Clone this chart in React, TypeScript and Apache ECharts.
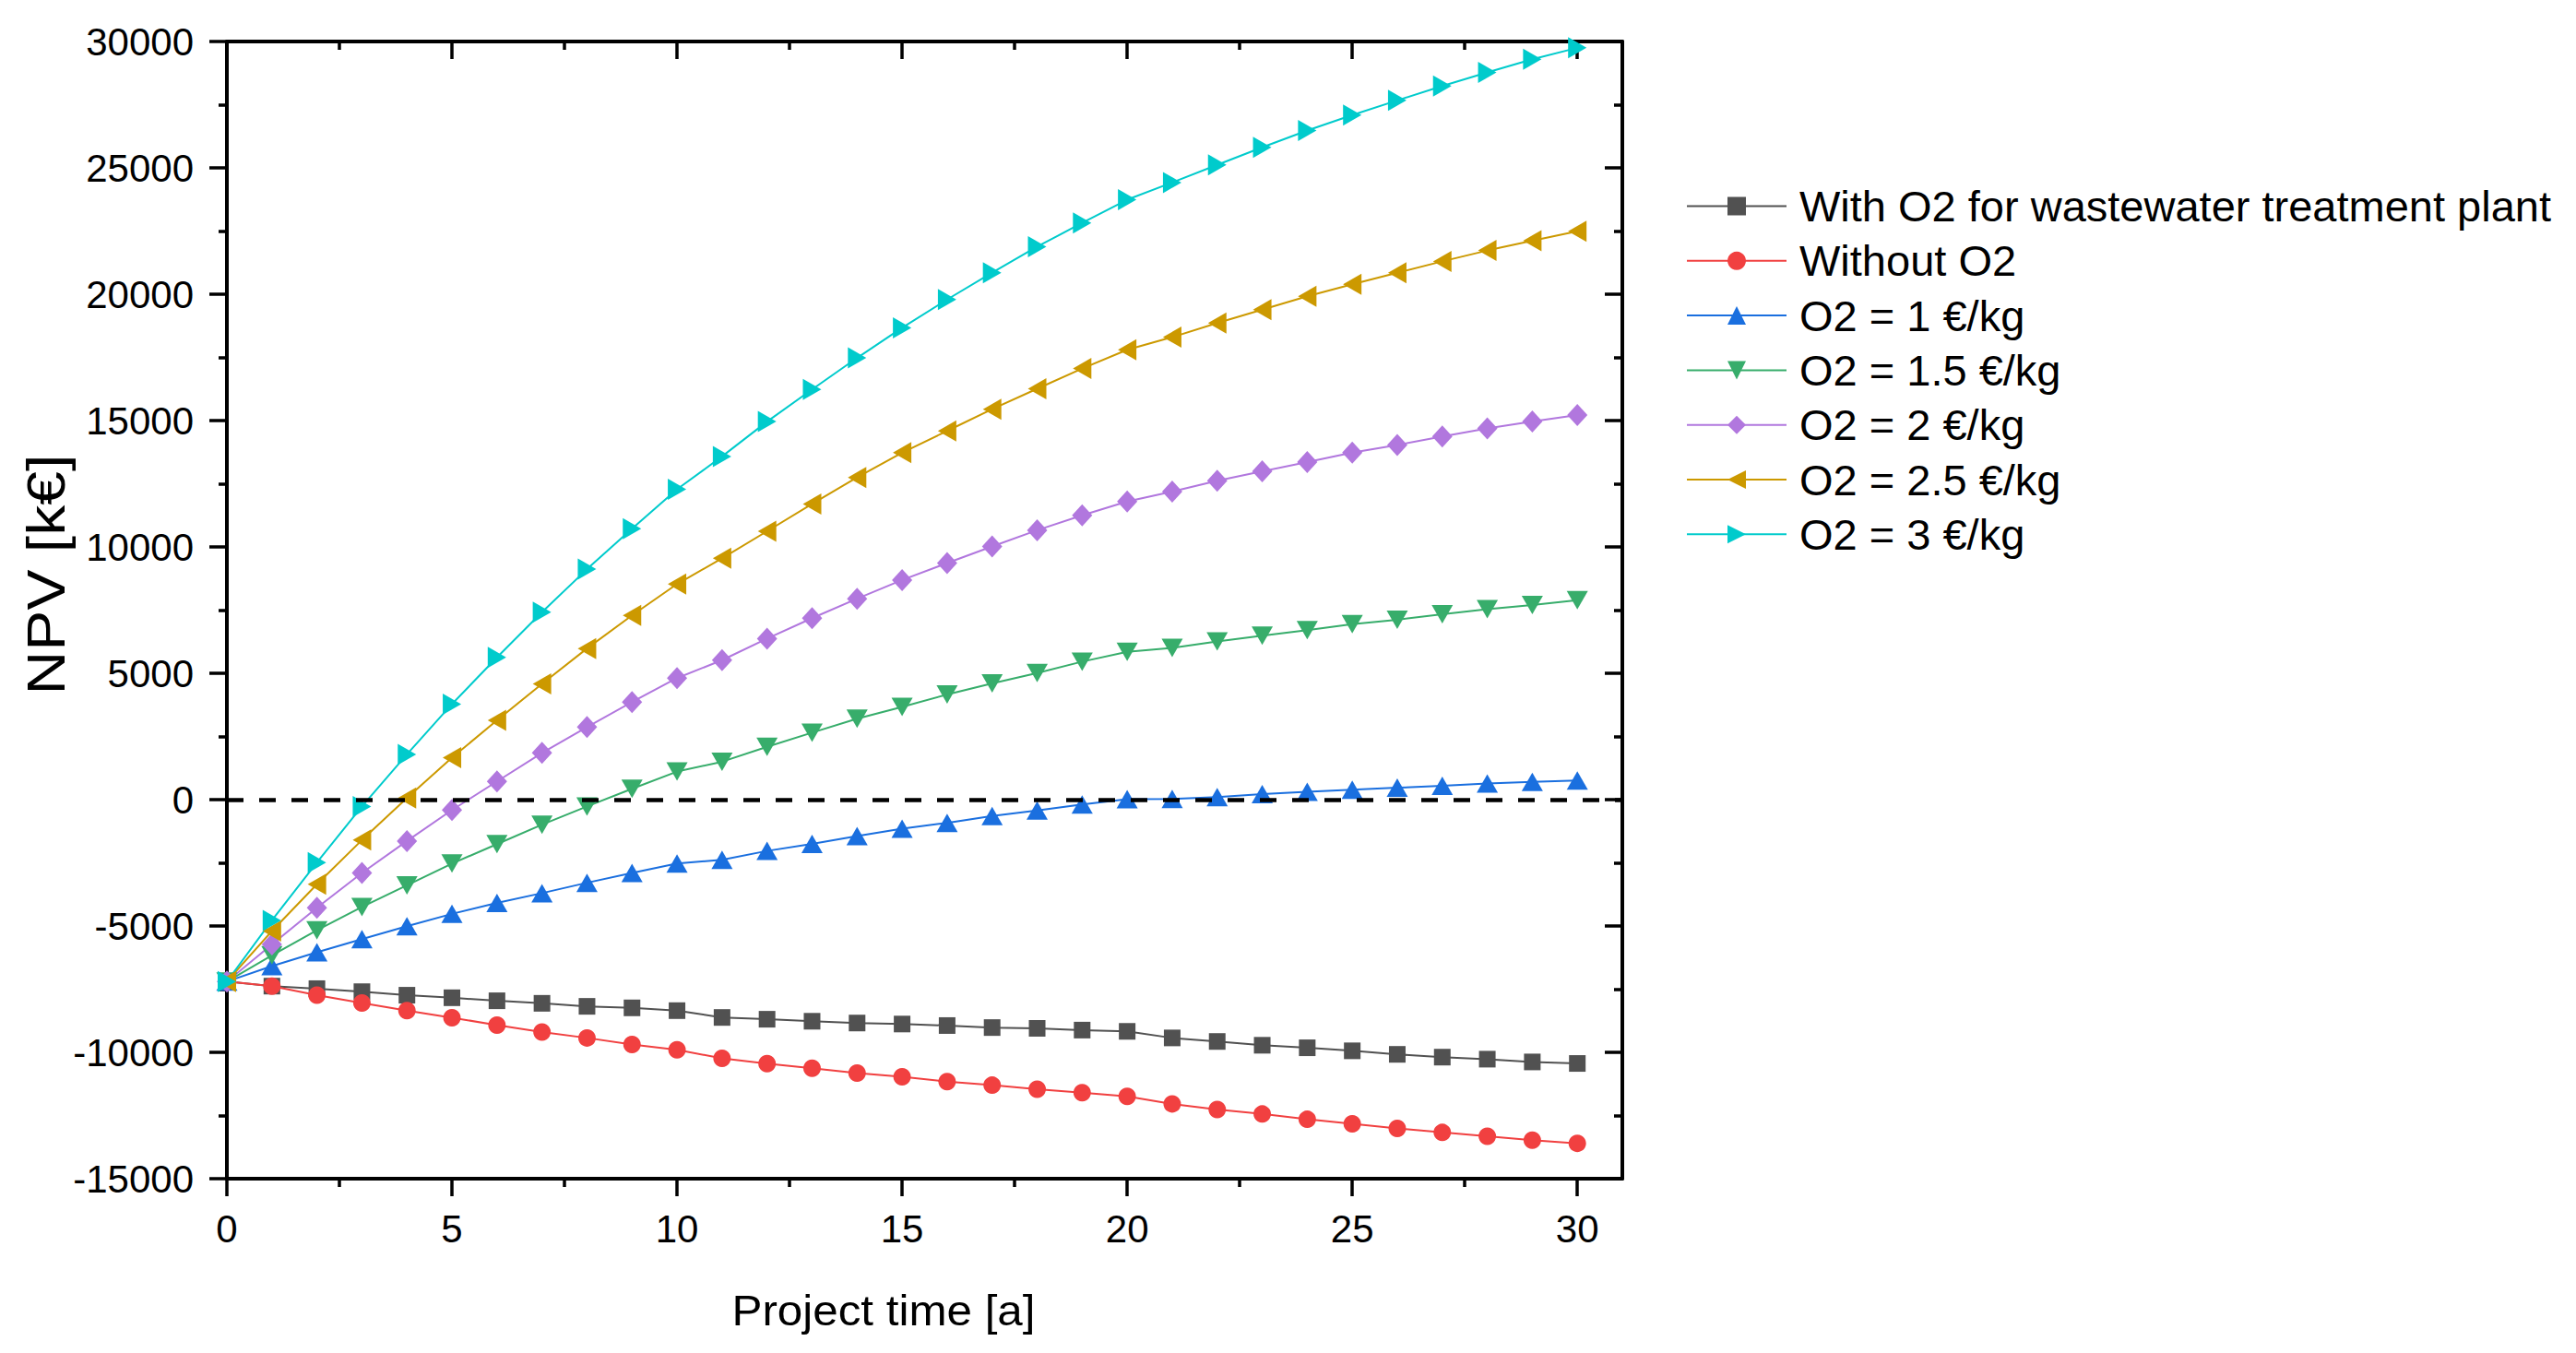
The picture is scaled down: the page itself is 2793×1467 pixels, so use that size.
import { useRef, useEffect } from "react";
import * as echarts from "echarts";

const years = [
  0, 1, 2, 3, 4, 5, 6, 7, 8, 9, 10, 11, 12, 13, 14, 15, 16, 17, 18, 19, 20, 21,
  22, 23, 24, 25, 26, 27, 28, 29, 30,
];

const withO2Wwtp = [
  -7200, -7380, -7480, -7600, -7740, -7840, -7960, -8060, -8180, -8240, -8350,
  -8620, -8690, -8770, -8840, -8880, -8940, -9020, -9050, -9120, -9170, -9430,
  -9570, -9720, -9820, -9940, -10080, -10190, -10270, -10380, -10440,
];
const withoutO2 = [
  -7200, -7380, -7740, -8050, -8350, -8630, -8920, -9200, -9430, -9690, -9900,
  -10240, -10450, -10630, -10820, -10970, -11160, -11300, -11460, -11600,
  -11740, -12040, -12260, -12440, -12650, -12830, -13010, -13170, -13320,
  -13480, -13600,
];
const o2At1 = [
  -7200, -6590, -6040, -5520, -5010, -4520, -4090, -3700, -3290, -2900, -2530,
  -2380, -2030, -1750, -1440, -1150, -920, -650, -430, -190, 20, 30, 100, 220,
  310, 390, 470, 550, 640, 700, 760,
];
const o2At15 = [
  -7200, -6160, -5170, -4250, -3390, -2530, -1760, -990, -270, 430, 1110, 1500,
  2090, 2650, 3200, 3670, 4160, 4600, 5010, 5460, 5850, 6000, 6260, 6490, 6710,
  6940, 7120, 7340, 7540, 7700, 7890,
];
const o2At2 = [
  -7200, -5730, -4280, -2900, -1640, -410, 720, 1850, 2870, 3860, 4810, 5520,
  6370, 7180, 7950, 8690, 9360, 10020, 10660, 11250, 11800, 12190, 12620,
  12990, 13360, 13730, 14030, 14370, 14690, 14960, 15220,
];
const o2At25 = [
  -7200, -5200, -3350, -1600, 60, 1660, 3140, 4580, 5980, 7290, 8530, 9550,
  10620, 11700, 12750, 13730, 14590, 15450, 16260, 17060, 17800, 18300, 18860,
  19390, 19920, 20390, 20850, 21300, 21730, 22120, 22490,
];
const o2At3 = [
  -7200, -4780, -2490, -270, 1790, 3780, 5630, 7420, 9120, 10720, 12280, 13580,
  14960, 16230, 17480, 18670, 19790, 20850, 21880, 22820, 23740, 24420, 25120,
  25810, 26480, 27090, 27670, 28240, 28780, 29300, 29750,
];

const seriesNames = [
  "With O2 for wastewater treatment plant",
  "Without O2",
  "O2 = 1 €/kg",
  "O2 = 1.5 €/kg",
  "O2 = 2 €/kg",
  "O2 = 2.5 €/kg",
  "O2 = 3 €/kg",
];

const xMajorTicks = [0, 5, 10, 15, 20, 25, 30];
const xMinorTicks = [2.5, 7.5, 12.5, 17.5, 22.5, 27.5];

const FONT = '"Liberation Sans", Arial, sans-serif';

export default function App() {
  const chartRef = useRef<HTMLDivElement>(null);

  useEffect(() => {
    if (!chartRef.current) return;
    const chart = echarts.init(chartRef.current, null, { renderer: "svg" });

    const values = [withO2Wwtp, withoutO2, o2At1, o2At15, o2At2, o2At25, o2At3];
    const colors = [
      "#515151",
      "#f14040",
      "#1a6fdf",
      "#37ad6b",
      "#b177de",
      "#cc9900",
      "#00cbcc",
    ];
    const symbols = [
      { symbol: "rect", size: 18, rotate: 0 },
      { symbol: "circle", size: 19, rotate: 0 },
      { symbol: "triangle", size: [23, 20], rotate: 0 },
      { symbol: "triangle", size: [23, 20], rotate: 180 },
      { symbol: "diamond", size: [22, 24], rotate: 0 },
      { symbol: "triangle", size: [23, 20], rotate: 90 },
      { symbol: "triangle", size: [23, 20], rotate: -90 },
    ];

    const axisLine = { show: true, onZero: false, lineStyle: { color: "#000", width: 4 } };
    const noLine = { show: false, onZero: false };
    const tickStyle = { color: "#000", width: 3.5 };

    const xCommon = { type: "value", min: 0, max: 31, splitLine: { show: false } };
    const yCommon = {
      type: "value",
      min: -15000,
      max: 30000,
      interval: 5000,
      splitLine: { show: false },
      minorSplitLine: { show: false },
    };

    const series: any[] = values.map((vals, i) => ({
      name: seriesNames[i],
      type: "line",
      xAxisIndex: 0,
      yAxisIndex: 0,
      data: years.map((x, j) => [x, vals[j]]),
      symbol: symbols[i].symbol,
      symbolSize: symbols[i].size,
      symbolRotate: symbols[i].rotate,
      showAllSymbol: true,
      lineStyle: { color: colors[i], width: 2 },
      itemStyle: { color: colors[i] },
      emphasis: { disabled: true },
      clip: false,
    }));

    series[series.length - 1].markLine = {
      silent: true,
      symbol: "none",
      label: { show: false },
      lineStyle: { color: "#000", width: 4.5, type: [18, 17], dashOffset: 0 },
      emphasis: { disabled: true },
      data: [{ yAxis: 0 }],
    };

    chart.setOption({
      animation: false,
      backgroundColor: "#fff",
      grid: { left: 246, top: 45, right: 1034, bottom: 189, containLabel: false },
      legend: {
        orient: "vertical",
        left: 1828,
        top: 200,
        padding: 0,
        itemWidth: 108,
        itemHeight: 25,
        itemGap: 12.3,
        data: seriesNames,
        textStyle: {
          fontFamily: FONT,
          fontSize: 47,
          color: "#000",
          lineHeight: 46,
          padding: [0, 0, 0, 9],
        },
      },
      xAxis: [
        {
          ...xCommon,
          position: "bottom",
          axisLine,
          axisTick: { show: true, length: 19, lineStyle: tickStyle, customValues: xMajorTicks },
          axisLabel: {
            customValues: xMajorTicks,
            margin: 33,
            fontFamily: FONT,
            fontSize: 42,
            color: "#000",
          },
        },
        {
          ...xCommon,
          position: "bottom",
          axisLine: noLine,
          axisTick: { show: true, length: 9, lineStyle: tickStyle, customValues: xMinorTicks },
          axisLabel: { show: false },
        },
        {
          ...xCommon,
          position: "top",
          axisLine,
          axisTick: { show: true, inside: true, length: 19, lineStyle: tickStyle, customValues: xMajorTicks },
          axisLabel: { show: false },
        },
        {
          ...xCommon,
          position: "top",
          axisLine: noLine,
          axisTick: { show: true, inside: true, length: 9, lineStyle: tickStyle, customValues: xMinorTicks },
          axisLabel: { show: false },
        },
      ],
      yAxis: [
        {
          ...yCommon,
          position: "left",
          axisLine,
          axisTick: { show: true, length: 19, lineStyle: tickStyle },
          minorTick: { show: true, splitNumber: 2, length: 9, lineStyle: tickStyle },
          axisLabel: {
            margin: 36,
            fontFamily: FONT,
            fontSize: 42,
            color: "#000",
            formatter: (v: number) => String(v),
          },
        },
        {
          ...yCommon,
          position: "right",
          axisLine,
          axisTick: { show: true, inside: true, length: 19, lineStyle: tickStyle },
          minorTick: { show: true, splitNumber: 2, length: 9, lineStyle: tickStyle },
          axisLabel: { show: false },
        },
      ],
      graphic: [
        {
          type: "text",
          x: 958,
          y: 1420,
          scaleX: 1.05,
          style: {
            text: "Project time [a]",
            fontFamily: FONT,
            fontSize: 47,
            fill: "#000",
            textAlign: "center",
            textVerticalAlign: "middle",
          },
        },
        {
          type: "text",
          x: 50,
          y: 623,
          rotation: Math.PI / 2,
          scaleX: 1.16,
          style: {
            text: "NPV [k€]",
            fontFamily: FONT,
            fontSize: 57,
            fill: "#000",
            textAlign: "center",
            textVerticalAlign: "middle",
          },
        },
      ],
      series,
    });

    return () => {
      chart.dispose();
    };
  }, []);

  return (
    <div
      ref={chartRef}
      style={{ position: "fixed", left: 0, top: 0, width: "2793px", height: "1467px" }}
    />
  );
}
